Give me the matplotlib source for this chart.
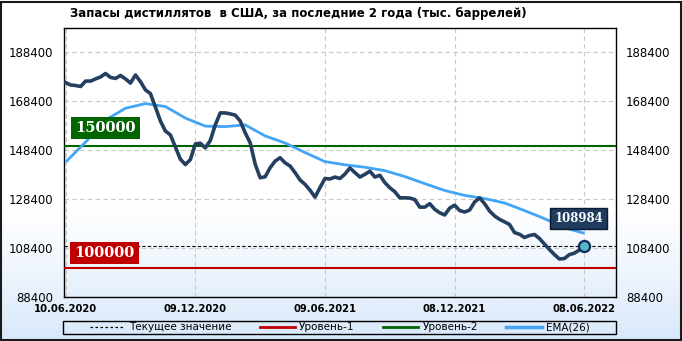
import matplotlib
matplotlib.use("Agg")
import matplotlib.pyplot as plt
import numpy as np
import pandas as pd
from matplotlib.patches import Rectangle
from matplotlib.lines import Line2D

# ---------------- data ----------------
title = "Запасы дистиллятов  в США, за последние 2 года (тыс. баррелей)"
start_date = "2020-06-10"
stocks = [
    175900, 174900, 174700, 174300, 176500, 176500, 177400, 178200, 179600, 178000,
    177600, 178800, 177400, 175700, 179000, 176300, 172900, 171400, 165900, 160200,
    156100, 154500, 149600, 144600, 142400, 144400, 150800, 151100, 149200, 152200,
    158600, 163500, 163500, 163100, 162600, 160200, 155400, 151300, 142600, 137000,
    137400, 141100, 143800, 145200, 143100, 141800, 139100, 136100, 134300, 131900,
    129100, 133000, 136700, 136500, 137300, 136700, 138500, 141000, 139100, 137300,
    138400, 139700, 137300, 138000, 135000, 132900, 131300, 128800, 128800, 128700,
    128100, 125000, 125000, 126400, 124100, 122700, 121800, 124600, 125800, 123600,
    123000, 123800, 127100, 128800, 126400, 123400, 121400, 120000, 119000, 117900,
    114600, 113900, 112600, 113400, 113800, 112200, 109900, 107700, 105600, 103800,
    104000, 105600, 106200, 107500, 108984,
]
# EMA(26) read every 4 weeks
ema_values = [
    143400, 151600, 160600, 165400, 167300, 166100, 161400, 158100, 157900, 158600,
    154100, 151200, 147300, 143600, 142300, 141300, 139900, 137500, 134600, 131800,
    129800, 128500, 126700, 123600, 120300, 116600, 114300,
]
level_1 = 100000
level_2 = 150000
y_ticks = [88400, 108400, 128400, 148400, 168400, 188400]
x_tick_labels = ["10.06.2020", "09.12.2020", "09.06.2021", "08.12.2021", "08.06.2022"]
legend_labels = ["Текущее значение", "Уровень-1", "Уровень-2", "EMA(26)"]

dates = pd.date_range(start_date, periods=len(stocks), freq="7D")
ema_dates = pd.date_range(start_date, periods=len(ema_values), freq="28D")
x_ticks = pd.to_datetime(x_tick_labels, format="%d.%m.%Y")
current = stocks[-1]

# ---------------- styling ----------------
C_MAIN = "#243f60"
C_EMA = "#42a5f5"
C_GREEN = "#006400"
C_RED = "#c00000"

W, H = 682, 341
fig = plt.figure(figsize=(W / 100, H / 100), dpi=100)

# figure background gradient
bg = fig.add_axes([0, 0, 1, 1], zorder=-10)
t = np.linspace(0, 1, 256)[:, None]
w = np.clip((0.4 - t) / 0.4, 0, 1) ** 1.2
blue = np.array([216, 232, 250]) / 255.0
img = (1 - w)[..., None] * np.ones(3) + w[..., None] * blue
bg.imshow(img, origin="lower", extent=(0, 1, 0, 1), aspect="auto")
bg.set_axis_off()

pos = [63.5 / W, 1 - 296.7 / H, (615.7 - 63.5) / W, (296.7 - 27.5) / H]

# plot area gradient
pbg = fig.add_axes(pos, zorder=-5)
w2 = np.clip((0.35 - t) / 0.35, 0, 1) ** 1.2
blue2 = np.array([228, 239, 252]) / 255.0
img2 = (1 - w2)[..., None] * np.ones(3) + w2[..., None] * blue2
pbg.imshow(img2, origin="lower", extent=(0, 1, 0, 1), aspect="auto")
pbg.set_axis_off()

ax = fig.add_axes(pos, zorder=1)
ax.set_facecolor("none")

ax.axhline(level_2, color=C_GREEN, lw=1.5, zorder=3)
ax.axhline(level_1, color=C_RED, lw=1.5, zorder=3)
ax.axhline(current, color="black", lw=0.8, ls=(0, (3, 2)), zorder=3)
ax.plot(ema_dates, ema_values, color=C_EMA, lw=2.0, zorder=4, solid_capstyle="butt")
ax.plot(dates, stocks, color=C_MAIN, lw=2.6, zorder=5, solid_joinstyle="round")
ax.plot(dates[-1], current, "o", ms=8, mfc="#5ab4c8", mec="#0f2d5c", mew=1.6, zorder=6)

ax.set_xlim(pd.Timestamp(start_date) - pd.Timedelta(days=3),
            pd.Timestamp(start_date) + pd.Timedelta(days=772))
ax.set_ylim(88400, 198400)

ax.set_yticks(y_ticks)
ax.set_yticklabels([str(v) for v in y_ticks])
ax.tick_params(axis="y", length=0, pad=7.5, labelsize=8.5, labelleft=True, labelright=True)
ax.set_xticks(x_ticks)
ax.set_xticklabels(x_tick_labels, fontweight="bold")
ax.tick_params(axis="x", length=0, pad=5, labelsize=7.2)

ax.grid(True, color="#c8c8c8", ls=(0, (4, 3)), lw=0.8)
ax.set_axisbelow(True)
for s in ax.spines.values():
    s.set_color("black")
    s.set_linewidth(1.0)

# value labels
ax.text(0.076, 0.627, f"{level_2}", transform=ax.transAxes, ha="center", va="center",
        fontsize=10.5, fontweight="bold", family="DejaVu Serif", color="white", zorder=7,
        bbox=dict(boxstyle="square,pad=0.3", fc=C_GREEN, ec="none"))
ax.text(0.0742, 0.162, f"{level_1}", transform=ax.transAxes, ha="center", va="center",
        fontsize=10.5, fontweight="bold", family="DejaVu Serif", color="white", zorder=7,
        bbox=dict(boxstyle="square,pad=0.3", fc=C_RED, ec="none"))
ax.text(0.9326, 0.2905, f"{current}", transform=ax.transAxes, ha="center", va="center",
        fontsize=8.5, fontweight="bold", family="DejaVu Serif", color="white", zorder=7,
        bbox=dict(boxstyle="square,pad=0.35", fc="#1f3b5e", ec="#0a1a30", lw=1))

# title
fig.text(70 / W, 1 - 13.3 / H, title, ha="left", va="center", fontsize=8.5, fontweight="bold")

# legend
handles = [
    Line2D([], [], color="black", lw=0.9, ls=(0, (2, 2))),
    Line2D([], [], color=C_RED, lw=2),
    Line2D([], [], color=C_GREEN, lw=2),
    Line2D([], [], color=C_EMA, lw=2.5),
]
fig.legend(handles, legend_labels, loc="center", bbox_to_anchor=(339.5 / W, 1 - 327.5 / H),
           ncol=4, frameon=False, fontsize=7.5, handlelength=3.4, handletextpad=0.4,
           columnspacing=2.7, borderaxespad=0, borderpad=0)
fig.patches.append(Rectangle((63.3 / W, 1 - 334.3 / H), 552.4 / W, 13.6 / H,
                             transform=fig.transFigure, fill=False, ec="black", lw=1.0))
# outer border
fig.patches.append(Rectangle((1 / W, 1.5 / H), 679.5 / W, 338 / H,
                             transform=fig.transFigure, fill=False, ec="#1a1a1a", lw=1.5))

fig.savefig("out.png", dpi=100)
